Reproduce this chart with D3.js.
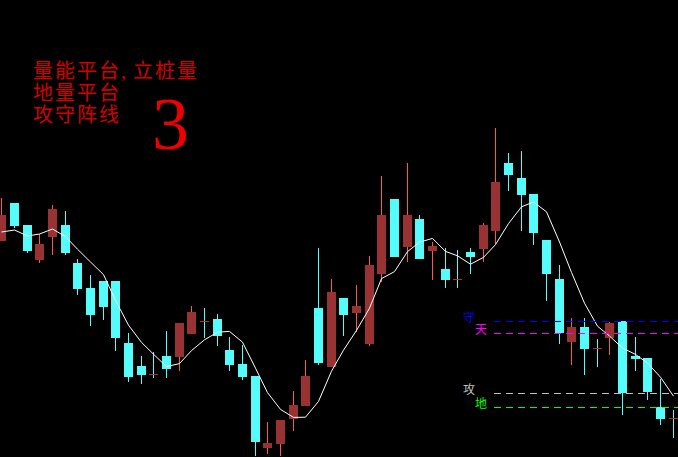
<!DOCTYPE html>
<html><head><meta charset="utf-8">
<script src="https://cdn.jsdelivr.net/npm/d3@7/dist/d3.min.js"></script>
<style>html,body{margin:0;padding:0;background:#000;overflow:hidden}</style>
</head><body>
<svg id="c" width="678" height="457"></svg>
<script>
// ---- data (price units) ----
const openP  = [21.9,25.7,23.5,20.0,22.3,23.5,19.7,17.2,17.9,17.9,11.7,9.4,8.6,10.4,10.3,12.6,13.9,14.1,11.0,9.6,8.4,1.2,1.6,4.1,5.4,15.2,9.3,16.2,14.7,11.6,18.6,26.1,21.3,24.1,20.9,19.1,18.1,20.8,21.1,22.9,29.7,28.2,26.6,22.0,18.1,11.8,13.3,11.2,12.2,13.9,10.4,10.2,5.3,4.2];
const highP  = [26.2,25.7,23.5,22.6,25.5,24.9,20.1,18.5,17.9,17.9,12.7,10.4,10.8,12.9,13.7,15.4,15.2,14.6,12.3,11.5,8.4,3.8,4.0,6.9,10.0,21.2,18.1,16.2,17.5,20.4,28.4,26.1,29.7,24.5,21.8,21.2,21.0,21.2,23.7,33.2,30.7,30.9,26.6,22.0,19.5,14.2,14.2,12.1,13.8,13.9,12.3,10.2,8.1,5.0];
const lowP   = [21.9,23.2,20.7,19.7,20.5,20.5,16.5,13.4,14.0,10.9,7.8,7.6,8.2,8.2,8.9,12.6,12.2,11.4,8.9,8.0,0.4,0.6,0.4,2.9,5.4,9.5,9.3,12.4,12.8,11.4,17.8,20.3,19.8,20.1,18.0,17.2,17.2,18.6,19.8,21.6,26.9,22.9,21.5,15.9,11.6,9.5,8.5,9.3,10.5,4.5,8.9,6.0,3.5,2.2];
const closeP = [24.5,23.4,20.9,21.6,25.1,20.7,17.1,14.5,15.3,12.2,8.3,8.5,8.6,9.1,13.7,14.8,13.9,12.4,9.5,8.3,1.8,1.7,4.0,5.5,8.4,9.7,16.8,14.5,15.4,19.5,24.5,20.3,24.5,20.1,21.4,18.0,18.1,20.3,23.5,27.8,28.5,26.5,22.7,18.6,12.7,13.3,11.1,11.2,13.7,6.7,10.1,6.8,4.1,4.2];
const ma5    = [22.8,23.0,22.4,22.6,23.1,22.34,21.08,19.8,18.54,15.96,13.48,11.76,10.58,9.34,9.64,10.94,12.02,12.78,12.86,11.78,9.18,6.74,5.06,4.26,4.28,5.86,8.88,10.98,12.96,15.18,18.14,18.84,20.84,21.78,22.16,20.86,20.42,19.58,20.26,21.54,23.64,25.32,25.8,24.82,21.8,18.76,15.68,13.38,12.4,11.2,10.56,9.7,8.28,6.38];
const levelNames  = ["守","天","攻","地"];
const levelValues = [13.9, 12.7, 6.7, 5.3];
const titleLines  = ["量能平台,", "立桩量", "地量平台", "攻守阵线"];
const bigNumber   = "3";

// ---- styles / layout ----
const W = 678, H = 457;
const CYAN = "#54fcfc", RED_BODY = "#993333", RED_WICK = "#ff5555", DOJI = "#b83232";
const levelColors = ["#0000ff", "#ff00ff", "#c0c0c0", "#00ff00"];
const levelLabelX = [463, 475, 463, 475];

const svg = d3.select("#c");
svg.append("rect").attr("width", W).attr("height", H).attr("fill", "#000");

const n = openP.length;
const x = d3.scaleLinear().domain([0, n - 1]).range([-2.67, -2.67 + (n - 1) * 12.667]);
const y = d3.scaleLinear().domain([0, 46]).range([460, 0]);
const bw = 9;
const left = i => Math.round(x(i));

const idx = d3.range(n);
const g = svg.append("g").attr("shape-rendering", "crispEdges");

// wicks
g.selectAll("rect.wick").data(idx).join("rect").attr("class", "wick")
  .attr("x", i => left(i) + 4)
  .attr("y", i => Math.round(y(highP[i])))
  .attr("width", 1)
  .attr("height", i => Math.max(1, Math.round(y(lowP[i])) - Math.round(y(highP[i]))))
  .attr("fill", i => closeP[i] > openP[i] ? RED_WICK : CYAN);

// bodies
g.selectAll("rect.body").data(idx).join("rect").attr("class", "body")
  .attr("x", i => left(i))
  .attr("y", i => Math.round(y(Math.max(openP[i], closeP[i]))))
  .attr("width", bw)
  .attr("height", i => Math.max(1, Math.round(y(Math.min(openP[i], closeP[i]))) - Math.round(y(Math.max(openP[i], closeP[i])))))
  .attr("fill", i => closeP[i] > openP[i] ? RED_BODY : (closeP[i] === openP[i] ? DOJI : CYAN));

// MA line
const line = d3.line().x(i => left(i) + 4.5).y(i => y(ma5[i]));
svg.append("path").datum(idx).attr("d", line)
  .attr("fill", "none").attr("stroke", "#fff").attr("stroke-width", 1);

// level lines and labels
levelValues.forEach((v, k) => {
  const yy = Math.round(y(v)) + 0.5;
  svg.append("line").attr("x1", 494).attr("x2", W).attr("y1", yy).attr("y2", yy)
    .attr("stroke", levelColors[k]).attr("stroke-width", 1).attr("stroke-dasharray", "7,5");
  svg.append("text").attr("x", levelLabelX[k]).attr("y", yy + 0.5)
    .attr("font-family", "'Noto Sans CJK SC', sans-serif").attr("font-size", 12)
    .attr("fill", levelColors[k]).text(levelNames[k]);
});

// title text (one multi-line block)
const tf = "'Liberation Serif', 'Noto Sans CJK SC', serif";
const t = svg.append("text").attr("font-family", tf).attr("font-size", 20)
  .attr("letter-spacing", 2).attr("fill", "#d40000");
t.append("tspan").attr("x", 33).attr("y", 78).text(titleLines[0]);
t.append("tspan").attr("x", 133).attr("y", 78).text(titleLines[1]);
t.append("tspan").attr("x", 33).attr("y", 100).text(titleLines[2]);
t.append("tspan").attr("x", 33).attr("y", 122).text(titleLines[3]);
svg.append("text").attr("x", 152).attr("y", 149).attr("font-family", "'Liberation Serif', serif").attr("font-size", 74).attr("fill", "#ee0000").text(bigNumber);
</script>
</body></html>
